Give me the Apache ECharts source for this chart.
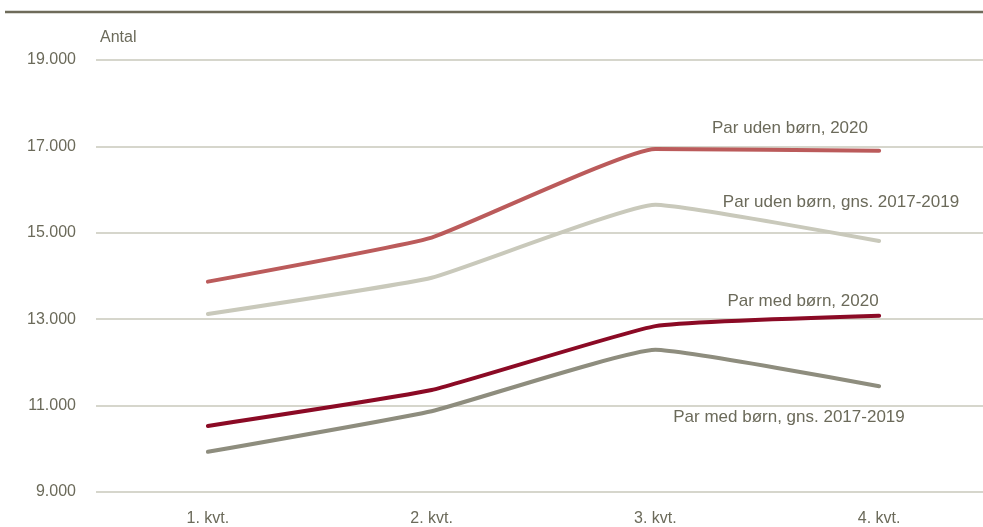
<!DOCTYPE html>
<html><head><meta charset="utf-8">
<script src="https://cdn.jsdelivr.net/npm/echarts@6/dist/echarts.min.js"></script>
<style>html,body{margin:0;padding:0;background:#fff}#c{width:983px;height:527px}</style>
</head><body><div id="c"></div>
<script>
const categories = ['1. kvt.', '2. kvt.', '3. kvt.', '4. kvt.'];
const udenBorn2020 = [13870, 14890, 16940, 16900];
const udenBornGns = [13120, 13960, 15650, 14810];
const medBorn2020 = [10530, 11360, 12840, 13080];
const medBornGns = [9930, 10870, 12290, 11450];
const yTicks = [9000, 11000, 13000, 15000, 17000, 19000];

const txt = '#6b6a5a';
const font = 'Liberation Sans, Arial, sans-serif';
const chart = echarts.init(document.getElementById('c'));
function ser(name, data, color) {
  return { name, type: 'line', data, smooth: 0.12, symbol: 'none',
    lineStyle: { color, width: 4, cap: 'round', join: 'round' }, z: 3 };
}
chart.setOption({
  animation: false,
  grid: { left: 96, right: -8, top: 60, bottom: 35, outerBoundsMode: 'none', containLabel: false },
  xAxis: { type: 'category', data: categories, boundaryGap: true,
    axisLine: { show: false }, axisTick: { show: false },
    axisLabel: { color: txt, fontSize: 16, fontFamily: font, margin: 19 } },
  yAxis: { type: 'value', min: 9000, max: 19000, interval: 2000,
    axisLine: { show: false }, axisTick: { show: false },
    splitLine: { lineStyle: { color: '#c9c9bb', width: 1.5 } },
    axisLabel: { color: txt, fontSize: 16, fontFamily: font, margin: 20,
      formatter: v => yTicks.includes(v) ? String(v).replace(/(\d+)(\d{3})$/, '$1.$2') : '' } },
  graphic: [
    { type: 'line', shape: { x1: 5, y1: 12, x2: 983, y2: 12 }, style: { stroke: '#6e6b5a', lineWidth: 2.5 } },
    { type: 'text', left: 100, top: 30, style: { text: 'Antal', fill: txt, fontSize: 16, fontFamily: font } },
    { type: 'text', x: 790, y: 128, style: { text: 'Par uden børn, 2020', fill: txt, fontSize: 17, fontFamily: font, align: 'center', verticalAlign: 'middle' } },
    { type: 'text', x: 841, y: 202, style: { text: 'Par uden børn, gns. 2017-2019', fill: txt, fontSize: 17, fontFamily: font, align: 'center', verticalAlign: 'middle' } },
    { type: 'text', x: 803, y: 301, style: { text: 'Par med børn, 2020', fill: txt, fontSize: 17, fontFamily: font, align: 'center', verticalAlign: 'middle' } },
    { type: 'text', x: 789, y: 417, style: { text: 'Par med børn, gns. 2017-2019', fill: txt, fontSize: 17, fontFamily: font, align: 'center', verticalAlign: 'middle' } }
  ],
  series: [
    ser('Par uden børn, gns. 2017-2019', udenBornGns, '#c9c9bb'),
    ser('Par med børn, gns. 2017-2019', medBornGns, '#8e8d7e'),
    ser('Par uden børn, 2020', udenBorn2020, '#bb5b5b'),
    ser('Par med børn, 2020', medBorn2020, '#8b0a25')
  ]
});
</script></body></html>
